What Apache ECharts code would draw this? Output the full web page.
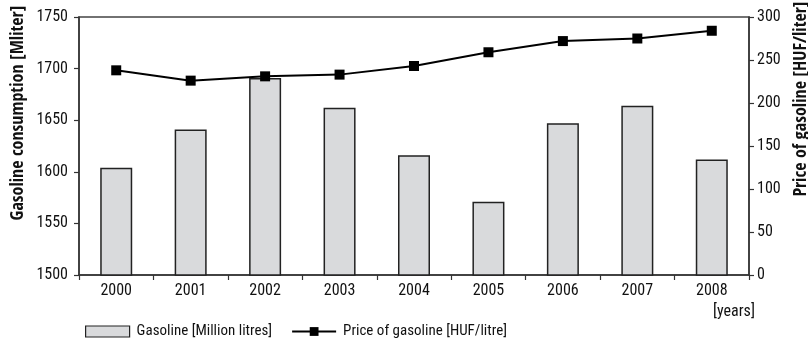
<!DOCTYPE html>
<html>
<head>
<meta charset="utf-8">
<script src="https://cdn.jsdelivr.net/npm/echarts@6/dist/echarts.min.js"></script>
<style>
  html, body { margin: 0; padding: 0; background: #fff; }
  #chart { width: 808px; height: 340px; }
</style>
</head>
<body>
<div id="chart"></div>
<script>
// Annual gasoline consumption (million litres) and average price (HUF/litre)
const years = ['2000', '2001', '2002', '2003', '2004', '2005', '2006', '2007', '2008'];
const consumption = [1604, 1641, 1691, 1662, 1616, 1571, 1647, 1664, 1612];
const price = [238, 226, 231, 233, 243, 259, 272, 275, 284];

const FONT = '"Roboto Condensed", "DejaVu Sans Condensed", sans-serif';
const TITLE_FONT = '"Open Sans Condensed", "Roboto Condensed", sans-serif';
const TXT = { color: '#111', fontFamily: FONT, fontSize: 16 };
const plain = v => String(v);

const chart = echarts.init(document.getElementById('chart'), null, { renderer: 'canvas' });

chart.setOption({
  animation: false,
  backgroundColor: '#fff',
  textStyle: { fontFamily: FONT },
  grid: {
    left: 79, right: 59, top: 17, bottom: 65,
    show: true, borderColor: '#444', borderWidth: 1.5, backgroundColor: 'transparent'
  },
  legend: {
    left: 80, top: 319,
    itemGap: 19,
    textStyle: Object.assign({}, TXT, { fontSize: 15, padding: [0, 0, 0, 2] }),
    data: [
      { name: 'Gasoline [Million litres]', icon: 'rect', itemStyle: { color: '#d9dadc', borderColor: '#222', borderWidth: 1.2 } },
      { name: 'Price of gasoline [HUF/litre]' }
    ],
    itemWidth: 44, itemHeight: 11
  },
  xAxis: {
    type: 'category',
    data: years,
    boundaryGap: true,
    axisLine: { lineStyle: { color: '#333', width: 1.5 } },
    axisTick: { show: true, inside: false, length: 5, lineStyle: { color: '#333', width: 1.2 } },
    axisLabel: Object.assign({}, TXT, { margin: 8 })
  },
  yAxis: [
    {
      type: 'value', min: 1500, max: 1750, interval: 50,
      splitLine: { show: false },
      axisLine: { show: true, lineStyle: { color: '#333', width: 1.5 } },
      axisTick: { show: true, length: 5, lineStyle: { color: '#333', width: 1.2 } },
      axisLabel: Object.assign({}, TXT, { margin: 11, formatter: plain })
    },
    {
      type: 'value', min: 0, max: 300, interval: 50,
      position: 'right',
      splitLine: { show: false },
      axisLine: { show: true, lineStyle: { color: '#333', width: 1.5 } },
      axisTick: { show: true, length: 5, lineStyle: { color: '#333', width: 1.2 } },
      axisLabel: Object.assign({}, TXT, { margin: 8, formatter: plain })
    }
  ],
  series: [
    {
      name: 'Gasoline [Million litres]',
      type: 'bar',
      data: consumption,
      barWidth: 32,
      itemStyle: { color: '#d9dadc', borderColor: '#222', borderWidth: 1.5 },
      z: 2
    },
    {
      name: 'Price of gasoline [HUF/litre]',
      type: 'line',
      yAxisIndex: 1,
      data: price,
      symbol: 'rect',
      symbolSize: 10,
      lineStyle: { color: '#000', width: 2 },
      itemStyle: { color: '#000' },
      z: 3
    }
  ],
  graphic: [
    {
      type: 'text', left: 713, top: 304,
      style: { text: '[years]', fill: '#111', font: '16px ' + FONT }
    },
    {
      type: 'text', x: 18, y: 113, rotation: Math.PI / 2,
      style: { text: 'Gasoline consumption [Mliter]', fill: '#111', font: 'bold 18px ' + TITLE_FONT, align: 'center', verticalAlign: 'middle' }
    },
    {
      type: 'text', x: 801, y: 99, rotation: Math.PI / 2,
      style: { text: 'Price of gasoline [HUF/liter]', fill: '#111', font: 'bold 18px ' + TITLE_FONT, align: 'center', verticalAlign: 'middle' }
    }
  ]
});
</script>
</body>
</html>
